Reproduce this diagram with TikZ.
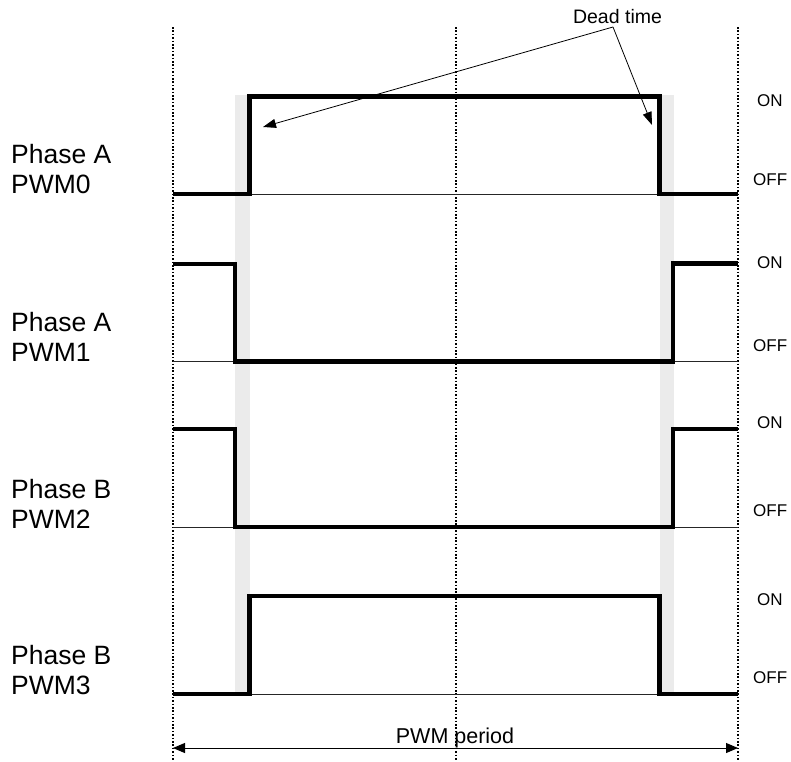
\documentclass[tikz,border=0pt]{standalone}
\usepackage{fontspec}
\setmainfont{Liberation Sans}
\usetikzlibrary{arrows.meta}
\begin{document}
\begin{tikzpicture}[x=1pt,y=-1pt,
  guide/.style={line width=1.2pt, dash pattern=on 1.6pt off 1.8pt},
  wave/.style={line width=4.2pt, line join=miter, line cap=butt},
  base/.style={line width=1pt, black!85},
  band/.style={fill=black!8, draw=none},
  phaselbl/.style={inner sep=0pt, anchor=base west, align=left, font=\fontsize{26.5}{30}\selectfont},
  statelbl/.style={inner sep=0pt, anchor=base west, font=\fontsize{17}{20}\selectfont},
  callout/.style={line width=0.8pt, -{Triangle[length=13pt,width=9pt]}},
  period/.style={line width=1pt, {Triangle[length=12pt,width=10pt]}-{Triangle[length=12pt,width=10pt]}}]
\useasboundingbox (0,0) rectangle (791,761);
% dead-time bands
\fill[band] (235,95) rectangle (249.5,694);
\fill[band] (659.5,95) rectangle (673.5,694);
% guide lines
\coordinate (g1t) at (173,27); \coordinate (g1b) at (173,761);
\coordinate (g2t) at (456,27); \coordinate (g2b) at (456,761);
\coordinate (g3t) at (738,27); \coordinate (g3b) at (738,761);
\draw[guide] (g1t) -- (g1b);
\draw[guide] (g2t) -- (g2b);
\draw[guide] (g3t) -- (g3b);
% baselines
\draw[base] (173,194) -- (738,194);
\draw[base] (173,361.5) -- (738,361.5);
\draw[base] (173,527) -- (738,527);
\draw[base] (173,694) -- (738,694);
% waveforms
\draw[wave] (173,194) -- (249.5,194) -- (249.5,96.5) -- (659.5,96.5) -- (659.5,194) -- (738,194);
\draw[wave] (173,264) -- (235,264) -- (235,361.5) -- (673,361.5) -- (673,263.5) -- (738,263.5);
\draw[wave] (173,429) -- (235,429) -- (235,527) -- (673,527) -- (673,429) -- (738,429);
\draw[wave] (173,694) -- (249.5,694) -- (249.5,596) -- (659.5,596) -- (659.5,694) -- (738,694);
% left labels (base anchor = last line baseline)
\node[phaselbl] (la) at (11,193) {Phase A\\PWM0};
\node[phaselbl] (lb) at (11,361) {Phase A\\PWM1};
\node[phaselbl] (lc) at (11,528) {Phase B\\PWM2};
\node[phaselbl] (ld) at (11,694) {Phase B\\PWM3};
% state labels
\node[statelbl] (on1) at (757,106) {ON};
\node[statelbl] (off1) at (753,185) {OFF};
\node[statelbl] (on2) at (757,268) {ON};
\node[statelbl] (off2) at (753,351) {OFF};
\node[statelbl] (on3) at (757,428) {ON};
\node[statelbl] (off3) at (753,516) {OFF};
\node[statelbl] (on4) at (757,605) {ON};
\node[statelbl] (off4) at (753,683) {OFF};
% dead time callout
\node[inner sep=0pt, anchor=base, font=\fontsize{19.5}{22}\selectfont] (dt) at (617.5,23) {Dead time};
\coordinate (dtp) at (613,27);
\coordinate (dta) at (263,127);
\coordinate (dtb) at (652,125);
\draw[callout] (dtp) -- (dta);
\draw[callout] (dtp) -- (dtb);
% PWM period
\node[inner sep=0pt, anchor=base, font=\fontsize{21.5}{24}\selectfont] (pp) at (455,743) {PWM period};
\coordinate (pl) at (173,748);
\coordinate (pr) at (738,748);
\draw[period] (pl) -- (pr);
\end{tikzpicture}
\end{document}
